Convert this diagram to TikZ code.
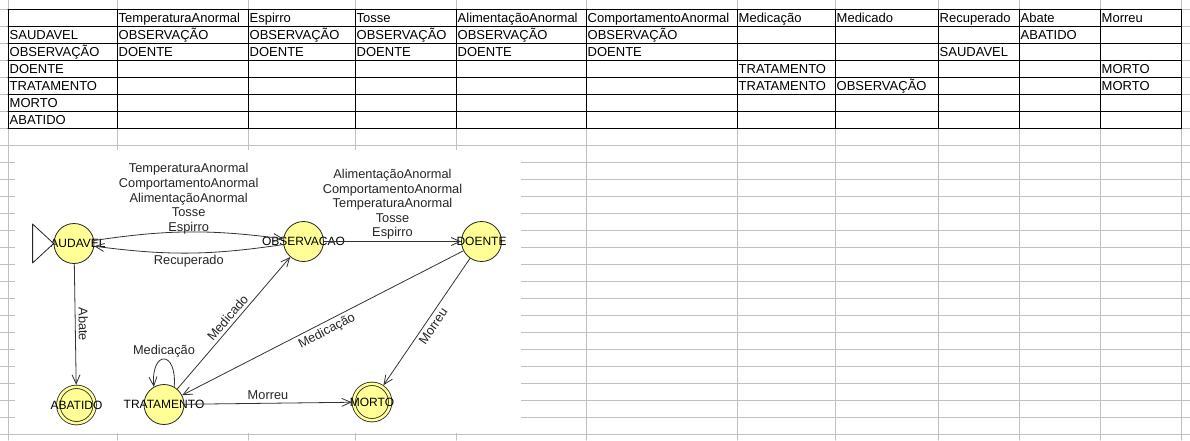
\documentclass[tikz,border=0pt]{standalone}
\usepackage{fontspec}
\setmainfont{Liberation Sans}
\usetikzlibrary{arrows.meta}
\definecolor{gridgray}{RGB}{192,192,192}
\definecolor{statefill}{RGB}{255,255,150}
\begin{document}
\begin{tikzpicture}[x=1pt,y=-1pt,>={Straight Barb[length=9pt,width=8pt]}, line join=round, line cap=round,
	state/.style={circle,draw=black!85,fill=statefill,line width=.8pt,minimum size=40pt,inner sep=0pt,font=\fontsize{12}{14}\selectfont},
	accepting/.style={double=statefill,double distance=2.6pt,minimum size=36.4pt,outer sep=2.1pt},
	trans/.style={->,draw=black!80,line width=.8pt},
	lbl/.style={font=\fontsize{12.8}{14.6}\selectfont,text=black!85,inner sep=3pt},
	cellt/.style={anchor=base west,inner sep=0pt,font=\fontsize{13}{15}\selectfont}]
	\def\cols{8,117,248,355,456,586,737,835,938,1019,1100,1181}
	\useasboundingbox (0,0) rectangle (1190,440);
	% sheet grid
	\foreach \k in {0,...,25} \draw[gridgray,line width=1pt] (0,9.3+17*\k)--(1190,9.3+17*\k);
	\foreach \x in \cols \draw[gridgray,line width=1pt] (\x,0)--(\x,440);
	\fill[white] (15,150) rectangle (521,433);
	% table borders
	\foreach \k in {0,...,7} \draw[line width=1pt] (8,9.3+17*\k)--(1181,9.3+17*\k);
	\foreach \x in \cols \draw[line width=1pt] (\x,9.3)--(\x,128.3);
	% table texts
	\foreach \x/\t in {117/TemperaturaAnormal,248/Espirro,355/Tosse,456/AlimentaçãoAnormal,586/ComportamentoAnormal,737/Medicação,835/Medicado,938/Recuperado,1019/Abate,1100/Morreu}
		\node[cellt] (h\x) at (\x+1.5,22.8) {\t};
	\foreach \t [count=\r] in {SAUDAVEL,OBSERVAÇÃO,DOENTE,TRATAMENTO,MORTO,ABATIDO}
		\node[cellt] (r\r) at (9.5,22.8+17*\r) {\t};
	\foreach \r/\x/\t in {1/117/OBSERVAÇÃO,1/248/OBSERVAÇÃO,1/355/OBSERVAÇÃO,1/456/OBSERVAÇÃO,1/586/OBSERVAÇÃO,1/1019/ABATIDO,
		2/117/DOENTE,2/248/DOENTE,2/355/DOENTE,2/456/DOENTE,2/586/DOENTE,2/938/SAUDAVEL,
		3/737/TRATAMENTO,3/1100/MORTO,4/737/TRATAMENTO,4/835/OBSERVAÇÃO,4/1100/MORTO}
		\node[cellt] (c\r-\x) at (\x+1.5,22.8+17*\r) {\t};
	% automaton
	\node[state] (saudavel) at (74,243.5) {\makebox[0pt]{\raisebox{-1.5pt}{SAUDAVEL}}};
	\node[state] (observacao) at (303.5,241.5) {\makebox[0pt]{\raisebox{-1.5pt}{OBSERVACAO}}};
	\node[state] (doente) at (481.5,241.5) {\makebox[0pt]{\raisebox{-1.5pt}{DOENTE}}};
	\node[state,accepting] (abatido) at (76.5,405) {\makebox[0pt]{\raisebox{-1.5pt}{ABATIDO}}};
	\node[state] (tratamento) at (164,404.5) {\makebox[0pt]{\raisebox{-1.5pt}{TRATAMENTO}}};
	\node[state,accepting] (morto) at (372,402) {\makebox[0pt]{\raisebox{-1.5pt}{MORTO}}};
	\draw[fill=white,draw=black!85,line width=.8pt] (saudavel.west)--++(-21,-19.5)--++(0,39)--cycle;
	\draw[trans] (saudavel) to[bend left=8] node[lbl,midway,above,align=center,inner sep=1.5pt,yshift=-4pt]
		{TemperaturaAnormal\\ComportamentoAnormal\\AlimentaçãoAnormal\\Tosse\\Espirro} (observacao);
	\draw[trans] (observacao) to[bend left=8] node[lbl,midway,below,inner sep=1.5pt] {Recuperado} (saudavel);
	\draw[trans] (observacao)--node[lbl,midway,above,align=center,inner sep=1.5pt]
		{AlimentaçãoAnormal\\ComportamentoAnormal\\TemperaturaAnormal\\Tosse\\Espirro} (doente);
	\draw[trans] (saudavel)--node[lbl,midway,sloped,above] {Abate} (abatido);
	\draw[trans] (tratamento)--node[lbl,midway,sloped,above] {Medicado} (observacao);
	\draw[trans] (doente)--node[lbl,midway,sloped,below] {Medicação} (tratamento);
	\draw[trans] (doente)--node[lbl,midway,sloped,below] {Morreu} (morto);
	\draw[trans] (tratamento)--node[lbl,midway,sloped,above] {Morreu} (morto);
	\draw[trans] (tratamento.60) .. controls +(3,-37) and +(-3,-37) .. node[lbl,above,inner sep=1pt] {Medicação} (tratamento.120);
\end{tikzpicture}
\end{document}
